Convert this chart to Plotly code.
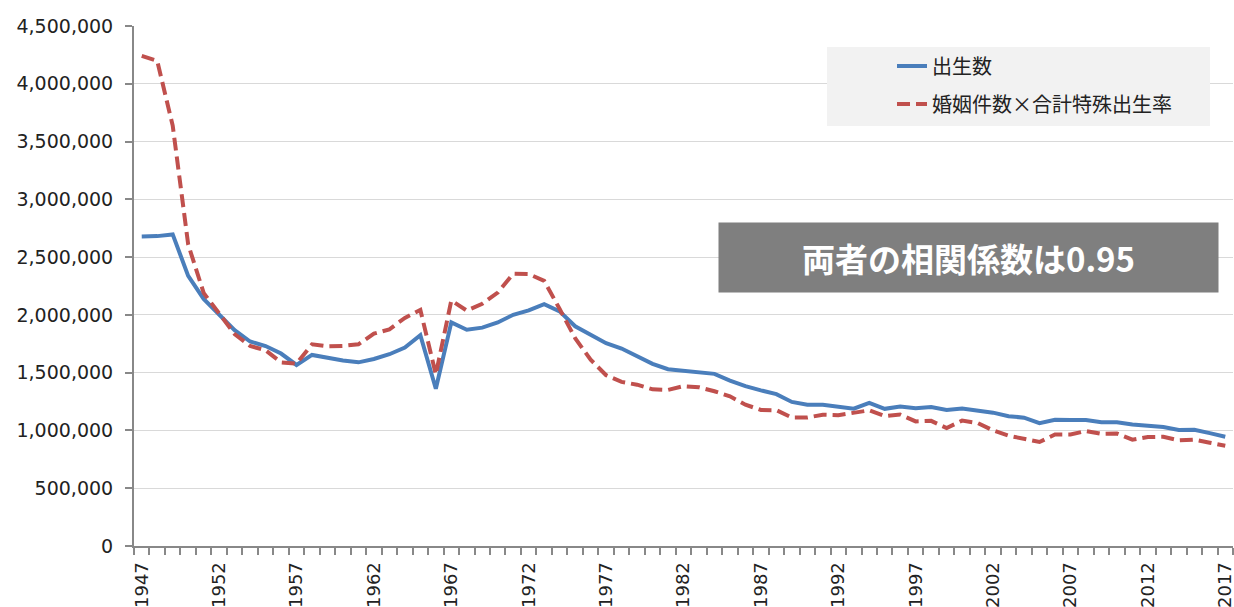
import plotly.graph_objects as go

years = list(range(1947, 2018))

births = [
    2678792, 2681624, 2696638, 2337507, 2137689, 2005162, 1868040, 1769580, 1730692, 1665278,
    1566713, 1653469, 1626088, 1606041, 1589372, 1618616, 1659521, 1716761, 1823697, 1360974,
    1935647, 1871839, 1889815, 1934239, 2000973, 2038682, 2091983, 2029989, 1901440, 1832617,
    1755100, 1708643, 1642580, 1576889, 1529455, 1515392, 1508687, 1489780, 1431577, 1382946,
    1346658, 1314006, 1246802, 1221585, 1223245, 1208989, 1188282, 1238328, 1187064, 1206555,
    1191665, 1203147, 1177669, 1190547, 1170662, 1153855, 1123610, 1110721, 1062530, 1092674,
    1089818, 1091156, 1070035, 1071304, 1050806, 1037231, 1029816, 1003539, 1005677, 976978,
    946065,
]

marriage_x_tfr = [
    4241000, 4198000, 3638000, 2610000, 2190000, 2017000, 1835000, 1731000, 1694000, 1589000,
    1578000, 1745000, 1728000, 1732000, 1745000, 1838000, 1875000, 1974000, 2043000, 1485000,
    2125000, 2037000, 2096000, 2193000, 2357000, 2354000, 2294000, 2051000, 1798000, 1612000,
    1478000, 1420000, 1396000, 1356000, 1351000, 1383000, 1373000, 1339000, 1295000, 1223000,
    1177000, 1175000, 1112000, 1112000, 1136000, 1132000, 1157000, 1174000, 1124000, 1137000,
    1078000, 1083000, 1021000, 1085000, 1064000, 1000000, 955000, 929000, 900000, 965000,
    965000, 995000, 970000, 973000, 920000, 943000, 945000, 914000, 921000, 894000,
    868000,
]

series_names = ["出生数", "婚姻件数×合計特殊出生率"]
label_years = list(range(1947, 2018, 5))
y_ticks = list(range(0, 4500001, 500000))
note_text = "両者の相関係数は0.95"

CJK = "Noto Sans CJK JP"
NUM = "DejaVu Sans"

fig = go.Figure()
fig.add_trace(go.Scatter(
    x=years, y=births, mode="lines", name=series_names[0],
    line=dict(color="#4a7ebb", width=4), legend="legend", showlegend=True,
))
fig.add_trace(go.Scatter(
    x=years, y=marriage_x_tfr, mode="lines", name=series_names[1],
    line=dict(color="#c0504d", width=4, dash="13px,6px"), legend="legend2", showlegend=True,
))

L, R, T, B = 134, 1, 26, 61
W, H = 1234, 607
pw, ph = W - L - R, H - T - B

def px(x):
    return (x - L) / pw

def py(y):
    return (H - B - y) / ph

legend_common = dict(
    bgcolor="rgba(0,0,0,0)", borderwidth=0,
    font=dict(family=CJK, size=20, color="#222222"),
    xanchor="left", yanchor="middle", itemwidth=30,
)

fig.update_layout(
    width=W, height=H,
    margin=dict(l=L, r=R, t=T, b=B, autoexpand=False),
    paper_bgcolor="white", plot_bgcolor="white",
    showlegend=True,
    legend=dict(x=px(892), y=py(66), **legend_common),
    legend2=dict(x=px(892), y=py(104), **legend_common),
    xaxis=dict(
        range=[1946.5, 2017.5], automargin=False,
        tickmode="array", tickvals=label_years, ticktext=[str(y) for y in label_years],
        tickangle=-90, ticks="", showgrid=False, ticklabeloverflow="allow",
        showline=True, linecolor="#888888", linewidth=2,
        tickfont=dict(family=NUM, size=18, color="#222222"),
        ticklabelstandoff=7,
        minor=dict(tickmode="linear", tick0=1946.5, dtick=1, ticks="outside",
                   ticklen=7, tickcolor="#888888", tickwidth=1.5, showgrid=False),
        zeroline=False,
    ),
    yaxis=dict(
        range=[0, 4500000], automargin=False,
        tickmode="array", tickvals=y_ticks, tickformat=",",
        ticks="outside", ticklen=7, tickcolor="#888888", tickwidth=1.5,
        showline=True, linecolor="#888888", linewidth=2,
        showgrid=True, gridcolor="#d9d9d9", gridwidth=1,
        tickfont=dict(family=NUM, size=19, color="#222222"),
        ticklabelstandoff=8,
        zeroline=False,
    ),
    shapes=[dict(
        type="rect", xref="paper", yref="paper",
        x0=px(827), x1=px(1210), y0=py(126), y1=py(47),
        fillcolor="#f2f2f2", line=dict(width=0), layer="above",
    )],
    annotations=[dict(
        xref="paper", yref="paper", x=px(968.7), y=py(257),
        xanchor="center", yanchor="middle",
        text="<b>" + note_text + "</b>", showarrow=False,
        bgcolor="#7f7f7f", width=499, height=69, borderpad=0,
        font=dict(family=CJK, size=33, color="white"),
    )],
)

fig.write_html(
    "out.html",
    config={"displayModeBar": False},
    post_script="document.body.style.margin='0';document.body.style.overflow='hidden';",
)
